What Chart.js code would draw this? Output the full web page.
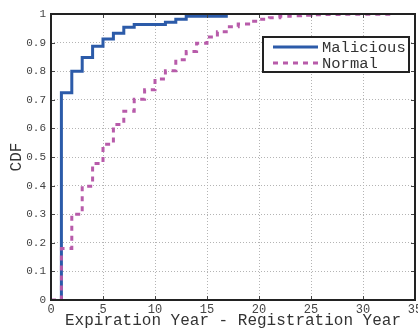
<!DOCTYPE html>
<html>
<head>
<meta charset="utf-8">
<script src="https://cdn.jsdelivr.net/npm/chart.js@4/dist/chart.umd.min.js"></script>
<style>
  html, body { margin: 0; padding: 0; background: #fff; }
  #wrap { width: 418px; height: 329px; position: relative; }
</style>
</head>
<body>
<div id="wrap"><canvas id="c" width="418" height="329"></canvas></div>
<script>
// ---- Data ----
const seriesLabels = ['Malicious', 'Normal'];
const maliciousYears = [1, 1, 2, 3, 4, 5, 6, 7, 8, 11, 12, 13, 17];
const maliciousCDF   = [0, 0.725, 0.80, 0.848, 0.887, 0.913, 0.933, 0.954, 0.963, 0.971, 0.982, 0.992, 0.992];
const normalYears = [0, 1, 2, 3, 4, 5, 6, 7, 8, 9, 10, 11, 12, 13, 14, 15, 16, 17, 18, 19, 20, 21, 22, 23, 24, 25, 26, 28, 30, 33];
const normalCDF   = [0, 0.18, 0.30, 0.398, 0.477, 0.545, 0.614, 0.66, 0.702, 0.735, 0.773, 0.802, 0.84, 0.869, 0.898, 0.92, 0.938, 0.955, 0.965, 0.975, 0.982, 0.987, 0.992, 0.994, 0.996, 0.997, 0.998, 0.999, 0.999, 1.0];
const xTickValues = [0, 5, 10, 15, 20, 25, 30, 35];
const yTickValues = [0, 0.1, 0.2, 0.3, 0.4, 0.5, 0.6, 0.7, 0.8, 0.9, 1];
const xTitle = 'Expiration Year - Registration Year';
const yTitle = 'CDF';

const toPoints = (xs, ys) => xs.map((x, i) => ({ x: x, y: ys[i] }));

const MONO = '"Liberation Mono", "DejaVu Sans Mono", monospace';

const framePlugin = {
  id: 'frame',
  afterDatasetsDraw(chart) {
    const { ctx, chartArea: a, scales } = chart;
    ctx.save();
    ctx.strokeStyle = '#444';
    ctx.lineWidth = 1;
    const tl = 4;
    ctx.beginPath();
    scales.x.ticks.forEach(t => {
      const px = Math.round(scales.x.getPixelForValue(t.value)) + 0.5;
      ctx.moveTo(px, a.bottom); ctx.lineTo(px, a.bottom - tl);
      ctx.moveTo(px, a.top); ctx.lineTo(px, a.top + tl);
    });
    scales.y.ticks.forEach(t => {
      const py = Math.round(scales.y.getPixelForValue(t.value)) + 0.5;
      ctx.moveTo(a.left, py); ctx.lineTo(a.left + tl, py);
      ctx.moveTo(a.right, py); ctx.lineTo(a.right - tl, py);
    });
    ctx.stroke();
    ctx.strokeStyle = '#222';
    ctx.lineWidth = 2;
    ctx.strokeRect(a.left, a.top, a.right - a.left, a.bottom - a.top);
    ctx.restore();
  }
};

const boxLegendPlugin = {
  id: 'boxLegend',
  afterDraw(chart, args, opts) {
    const { ctx } = chart;
    ctx.save();
    ctx.fillStyle = '#fff';
    ctx.fillRect(opts.x, opts.y, opts.w, opts.h);
    ctx.strokeStyle = '#222';
    ctx.lineWidth = 2;
    ctx.strokeRect(opts.x, opts.y, opts.w, opts.h);
    ctx.font = opts.fontSize + 'px ' + MONO;
    ctx.textBaseline = 'middle';
    ctx.textAlign = 'left';
    chart.data.datasets.forEach((ds, i) => {
      const cy = opts.y + opts.firstRow + i * opts.rowGap;
      ctx.beginPath();
      ctx.strokeStyle = ds.borderColor;
      ctx.lineWidth = ds.borderWidth;
      ctx.setLineDash(ds.borderDash || []);
      ctx.moveTo(opts.x + opts.lineStart, cy);
      ctx.lineTo(opts.x + opts.lineStart + opts.lineLen, cy);
      ctx.stroke();
      ctx.setLineDash([]);
      ctx.fillStyle = '#333';
      ctx.fillText(ds.label, opts.x + opts.textStart, cy + 1);
    });
    ctx.restore();
  }
};

new Chart(document.getElementById('c'), {
  type: 'line',
  data: {
    datasets: [
      {
        label: seriesLabels[0],
        data: toPoints(maliciousYears, maliciousCDF),
        borderColor: '#2C5BA9',
        backgroundColor: '#2C5BA9',
        borderWidth: 3,
        stepped: 'before',
        pointRadius: 0,
        fill: false,
        order: 2
      },
      {
        label: seriesLabels[1],
        data: toPoints(normalYears, normalCDF),
        borderColor: '#B85BAA',
        backgroundColor: '#B85BAA',
        borderWidth: 3,
        borderDash: [5, 5],
        stepped: 'before',
        pointRadius: 0,
        fill: false,
        order: 1
      }
    ]
  },
  options: {
    responsive: false,
    animation: false,
    devicePixelRatio: 1,
    layout: { padding: { top: 14, right: 3, left: 0, bottom: 0 } },
    plugins: {
      legend: { display: false },
      tooltip: { enabled: false },
      boxLegend: { x: 263, y: 37, w: 146, h: 35, firstRow: 10, rowGap: 16, lineStart: 10, lineLen: 45, textStart: 59, fontSize: 15.5 }
    },
    scales: {
      x: {
        type: 'linear',
        min: 0, max: 35,
        afterBuildTicks(scale) { scale.ticks = xTickValues.map(v => ({ value: v })); },
        afterFit(scale) { scale.height = 29; scale.paddingLeft = 0; scale.paddingRight = 0; },
        ticks: {
          autoSkip: false, maxRotation: 0, padding: 3, color: '#444',
          font: { family: MONO, size: 12 },
          callback: v => String(v)
        },
        grid: { color: '#b4b4b4', lineWidth: 1, drawTicks: false },
        border: { display: false, dash: [1, 2] },
        title: { display: true, text: xTitle, color: '#333', font: { family: MONO, size: 16 }, padding: { top: 0, bottom: -1 } }
      },
      y: {
        type: 'linear',
        min: 0, max: 1,
        afterBuildTicks(scale) { scale.ticks = yTickValues.map(v => ({ value: v })); },
        afterFit(scale) { scale.width = 51; scale.paddingTop = 0; scale.paddingBottom = 0; },
        ticks: {
          autoSkip: false, padding: 5, color: '#444',
          font: { family: MONO, size: 11 },
          callback: v => String(Math.round(v * 10) / 10)
        },
        grid: { color: '#b4b4b4', lineWidth: 1, drawTicks: false },
        border: { display: false, dash: [1, 2] },
        title: { display: true, text: yTitle, color: '#333', font: { family: MONO, size: 16 }, padding: { top: 7, bottom: 0 } }
      }
    }
  },
  plugins: [framePlugin, boxLegendPlugin]
});
</script>
</body>
</html>
